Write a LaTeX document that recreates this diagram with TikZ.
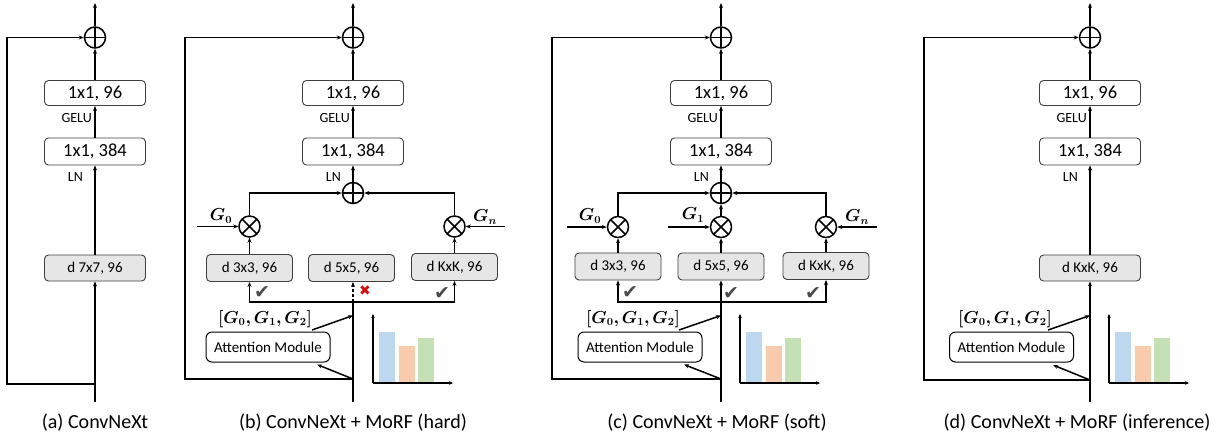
\documentclass[tikz,border=0pt]{standalone}
\usepackage{fontspec}
\setmainfont{Carlito}
\newfontfamily\symbolfont{DejaVu Sans}
\usepackage{bm}
\usetikzlibrary{arrows.meta,calc}

\definecolor{boxline}{HTML}{3F3F3F}
\definecolor{convfill}{HTML}{E6E6E6}
\definecolor{barblue}{HTML}{BDD7EE}
\definecolor{barorange}{HTML}{F8CBAD}
\definecolor{bargreen}{HTML}{C5E0B4}
\definecolor{checkgray}{HTML}{4A4A4A}
\definecolor{crossred}{HTML}{D01010}

\tikzset{
  wire/.style={line width=1.5pt, draw=black},
  arr/.style={wire, -{Stealth[length=5pt,width=4pt]}},
  blk/.style={draw=boxline, line width=0.9pt, rounded corners=4pt, fill=white,
    minimum width=101pt, minimum height=25pt, inner sep=0pt,
    font=\fontsize{18.5}{20}\selectfont},
  convblk/.style={blk, fill=convfill, minimum width=86pt, minimum height=27pt,
    font=\fontsize{15}{17}\selectfont},
  attblk/.style={draw=black, line width=1pt, rounded corners=6pt, fill=white,
    minimum width=124pt, minimum height=30pt, inner sep=0pt,
    font=\fontsize{15}{17}\selectfont},
  opcirc/.style={circle, draw=black, line width=1.5pt, minimum size=21pt, inner sep=0pt},
  oplus/.style={opcirc, path picture={
    \draw[line width=1.5pt] (path picture bounding box.north) -- (path picture bounding box.south)
      (path picture bounding box.west) -- (path picture bounding box.east);}},
  otimes/.style={opcirc, path picture={
    \draw[line width=1.5pt] (path picture bounding box.north west) -- (path picture bounding box.south east)
      (path picture bounding box.north east) -- (path picture bounding box.south west);}},
  actlbl/.style={font=\fontsize{14}{16}\selectfont, inner sep=0pt, anchor=east},
  glbl/.style={font=\fontsize{16}{18}\selectfont, inner sep=0pt},
  tick/.style={font=\symbolfont\fontsize{19}{21}\selectfont, text=checkgray, inner sep=0pt},
  drop/.style={font=\symbolfont\fontsize{14}{16}\selectfont, text=crossred, inner sep=0pt},
  caption/.style={font=\fontsize{20}{24}\selectfont, inner sep=0pt},
  axis/.style={line width=1.2pt, -{Stealth[length=4pt,width=3.5pt]}},
}

% residual sum, two pointwise layers and their activation labels
\newcommand\upperstack[2]{%
  \node[oplus] (#1sum) at (#2,37.5) {};
  \node[blk] (#1fcb) at (#2,93) {1x1, 96};
  \node[blk, minimum height=27pt] (#1fca) at (#2,151.5) {1x1, 384};
  \coordinate (#1out) at (#2,3);
  \draw[arr] (#1sum.north) -- (#1out);
  \draw[arr] (#1fcb.north) -- (#1sum.south);
  \draw[arr] (#1fca.north) -- (#1fcb.south);
  \node[actlbl] (#1gelu) at (#2-3,118) {GELU};
  \node[actlbl] (#1ln) at (#2-12,177) {LN};
}

% small bar chart of the gate weights
\newcommand\barchart[2]{%
  \coordinate (#1o) at (#2,383);
  \coordinate (#1ytop) at (#2,314);
  \coordinate (#1xend) at (#2+80,383);
  \fill[barblue] (#2+6,381.5) rectangle (#2+22,332);
  \fill[barorange] (#2+26,381.5) rectangle (#2+42,346);
  \fill[bargreen] (#2+45,381.5) rectangle (#2+61,338);
  \draw[axis] (#1o) -- (#1ytop);
  \draw[axis] (#1o) -- (#1xend);
}

\begin{document}
\begin{tikzpicture}[x=1pt,y=-1pt]
\useasboundingbox (0,0) rectangle (1217,440);

% ---------------- (a) ConvNeXt ----------------
\upperstack{a}{95}
\node[convblk, minimum width=101pt, minimum height=26pt] (adw) at (95,268) {d 7x7, 96};
\draw[arr] (adw.north) -- (afca.south);
\coordinate (ain) at (95,402);
\coordinate (ajoin) at (95,384);
\coordinate (aleft) at (7,384);
\draw[arr] (ain) -- (adw.south);
\draw[arr] (ajoin) -- (aleft) |- (asum.west);
\node[caption] (acap) at (95,423) {(a) ConvNeXt};

% ---------------- (b) hard routing ----------------
\upperstack{b}{353}
\node[oplus] (bmix) at (353,193) {};
\draw[arr] (bmix.north) -- (bfca.south);
\node[otimes] (bg0x) at (249.5,226.5) {};
\node[otimes] (bgnx) at (454.5,226.5) {};
\draw[arr] (bg0x.north) |- (bmix.west);
\draw[arr] (bgnx.north) |- (bmix.east);
\node[convblk] (bk3) at (249.5,268) {d 3x3, 96};
\node[convblk] (bk5) at (351.5,268) {d 5x5, 96};
\node[convblk] (bkk) at (454.5,267) {d KxK, 96};
\draw[arr] (bk3.north) -- (bg0x.south);
\draw[arr] (bkk.north) -- (bgnx.south);
\coordinate (bg0in) at (197,226.5);
\coordinate (bgnin) at (505,226.5);
\draw[arr] (bg0in) -- (bg0x.west);
\draw[arr] (bgnin) -- (bgnx.east);
\node[glbl] (bg0l) at (221,216) {$\bm{G_0}$};
\node[glbl] (bgnl) at (485,217) {$\bm{G_n}$};
\coordinate (bsplit) at (353,302);
\draw[arr] (bsplit) -| (bk3.south);
\draw[arr] (bsplit) -| (bkk.south);
\draw[arr, dash pattern=on 3pt off 2pt] (bsplit) -- (bsplit |- bk5.south);
\coordinate (bin) at (353,402);
\coordinate (bjoin) at (353,379);
\coordinate (bleft) at (185,379);
\coordinate (bgate) at (353,315.5);
\draw[wire] (bin) -- (bsplit);
\draw[arr] (bjoin) -- (bleft) |- (bsum.west);
\node[attblk] (batt) at (268,347) {Attention Module};
\coordinate (battin) at (317,364.5);
\coordinate (battout) at (312,330);
\draw[arr] (bjoin) -- (battin);
\draw[arr] (battout) -- (bgate);
\node[glbl] (bgl) at (265,319) {$\bm{[G_0, G_1, G_2]}$};
\node[tick] (bt1) at (262,292) {✔};
\node[tick] (bt2) at (442,293) {✔};
\node[drop] (bx) at (365,291) {✖};
\barchart{b}{373}
\node[caption] (bcap) at (353,423) {(b) ConvNeXt + MoRF (hard)};

% ---------------- (c) soft routing ----------------
\upperstack{c}{721}
\node[oplus] (cmix) at (721,193) {};
\draw[arr] (cmix.north) -- (cfca.south);
\node[otimes] (cg0x) at (618,227) {};
\node[otimes] (cg1x) at (721,227) {};
\node[otimes] (cgnx) at (826,227) {};
\draw[arr] (cg0x.north) |- (cmix.west);
\draw[arr] (cgnx.north) |- (cmix.east);
\draw[arr] (cg1x.north) -- (cmix.south);
\node[convblk] (ck3) at (618,266.5) {d 3x3, 96};
\node[convblk] (ck5) at (721,266.5) {d 5x5, 96};
\node[convblk] (ckk) at (826,266) {d KxK, 96};
\draw[arr] (ck3.north) -- (cg0x.south);
\draw[arr] (ck5.north) -- (cg1x.south);
\draw[arr] (ckk.north) -- (cgnx.south);
\coordinate (cg0in) at (567,227);
\coordinate (cg1in) at (668,227);
\coordinate (cgnin) at (877,227);
\draw[arr] (cg0in) -- (cg0x.west);
\draw[arr] (cg1in) -- (cg1x.west);
\draw[arr] (cgnin) -- (cgnx.east);
\node[glbl] (cg0l) at (590,216) {$\bm{G_0}$};
\node[glbl] (cg1l) at (693,215) {$\bm{G_1}$};
\node[glbl] (cgnl) at (857,217) {$\bm{G_n}$};
\coordinate (csplit) at (721,302);
\draw[arr] (csplit) -| (ck3.south);
\draw[arr] (csplit) -| (ckk.south);
\draw[arr] (csplit) -- (ck5.south);
\coordinate (cin) at (721,402);
\coordinate (cjoin) at (721,379);
\coordinate (cleft) at (552,379);
\coordinate (cgate) at (721,315.5);
\draw[wire] (cin) -- (csplit);
\draw[arr] (cjoin) -- (cleft) |- (csum.west);
\node[attblk] (catt) at (640,347) {Attention Module};
\coordinate (cattin) at (684,364.5);
\coordinate (cattout) at (679,330);
\draw[arr] (cjoin) -- (cattin);
\draw[arr] (cattout) -- (cgate);
\node[glbl] (cgl) at (633,319) {$\bm{[G_0, G_1, G_2]}$};
\node[tick] (ct1) at (630,292) {✔};
\node[tick] (ct2) at (731,293) {✔};
\node[tick] (ct3) at (813,293) {✔};
\barchart{c}{740}
\node[caption] (ccap) at (717,423) {(c) ConvNeXt + MoRF (soft)};

% ---------------- (d) inference ----------------
\upperstack{d}{1090}
\node[convblk, minimum width=101pt, minimum height=26pt] (dkk) at (1090,268) {d KxK, 96};
\draw[arr] (dkk.north) -- (dfca.south);
\coordinate (din) at (1090,402);
\coordinate (djoin) at (1090,380);
\coordinate (dleft) at (924,380);
\coordinate (dgate) at (1090,315.5);
\draw[arr] (din) -- (dkk.south);
\draw[arr] (djoin) -- (dleft) |- (dsum.west);
\node[attblk] (datt) at (1011.5,347) {Attention Module};
\coordinate (dattin) at (1053,365);
\coordinate (dattout) at (1048,330);
\draw[arr] (djoin) -- (dattin);
\draw[arr] (dattout) -- (dgate);
\node[glbl] (dgl) at (1005,319) {$\bm{[G_0, G_1, G_2]}$};
\barchart{d}{1109}
\node[caption] (dcap) at (1077,423) {(d) ConvNeXt + MoRF (inference)};

\end{tikzpicture}
\end{document}
